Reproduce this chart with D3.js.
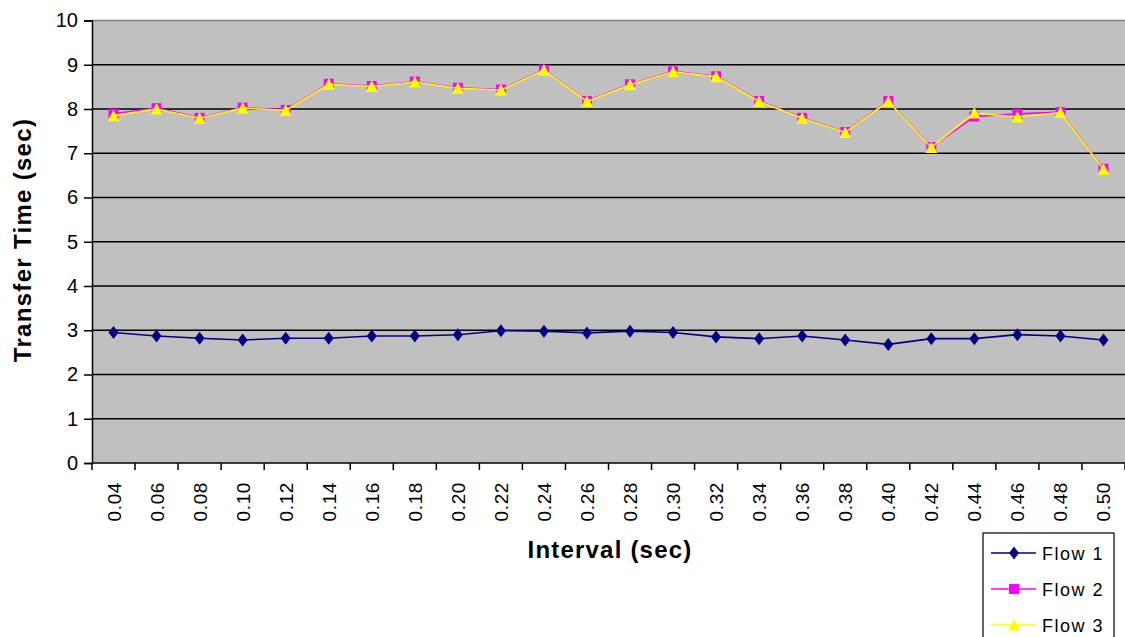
<!DOCTYPE html>
<html>
<head>
<meta charset="utf-8">
<script src="https://cdn.jsdelivr.net/npm/d3@7"></script>
<style>
  html, body { margin: 0; padding: 0; background: #fff; }
  svg { display: block; }
  text { font-family: "Liberation Sans", Arial, sans-serif; fill: #000; }
</style>
</head>
<body>
<svg id="chart" width="1125" height="637"></svg>
<script>
// Interval categories (sec)
const intervals = ["0.04","0.06","0.08","0.10","0.12","0.14","0.16","0.18","0.20","0.22","0.24","0.26",
                   "0.28","0.30","0.32","0.34","0.36","0.38","0.40","0.42","0.44","0.46","0.48","0.50"];

// Transfer time per flow (sec)
const flow1 = [2.95,2.87,2.82,2.78,2.82,2.82,2.87,2.87,2.90,2.99,2.98,2.94,
               2.98,2.95,2.85,2.81,2.87,2.78,2.68,2.81,2.81,2.90,2.87,2.78];
const flow2 = [7.89,8.02,7.80,8.03,7.98,8.57,8.52,8.62,8.48,8.44,8.89,8.18,
               8.56,8.85,8.74,8.18,7.80,7.48,8.18,7.14,7.83,7.89,7.93,6.65];
const flow3 = [7.85,8.00,7.79,8.02,7.97,8.56,8.51,8.61,8.47,8.43,8.88,8.17,
               8.55,8.84,8.73,8.17,7.79,7.47,8.17,7.13,7.91,7.82,7.92,6.64];

const yTicks = [0,1,2,3,4,5,6,7,8,9,10];

const seriesNames = ["Flow 1","Flow 2","Flow 3"];
const seriesColors = ["#000080","#FF00FF","#FFFF00"];
const seriesMarkers = ["diamond","square","triangle"];

const svg = d3.select("#chart");
const plotL = 92, plotR = 1125, plotT = 20.5, plotB = 463;

const x = d3.scaleBand().domain(intervals).range([plotL, plotR]).padding(0);
const y = d3.scaleLinear().domain([0, 10]).range([plotB, plotT]);

// plot background
svg.append("rect")
  .attr("x", plotL).attr("y", plotT)
  .attr("width", plotR - plotL).attr("height", plotB - plotT)
  .attr("fill", "#C0C0C0");
svg.append("line")
  .attr("x1", plotL).attr("x2", plotR).attr("y1", plotT).attr("y2", plotT)
  .attr("stroke", "#808080").attr("stroke-width", 1.5);

// horizontal gridlines
svg.append("g").selectAll("line")
  .data(yTicks.filter(d => d > 0 && d < 10))
  .join("line")
  .attr("x1", plotL).attr("x2", plotR)
  .attr("y1", d => y(d)).attr("y2", d => y(d))
  .attr("stroke", "#000").attr("stroke-width", 1.6);

// y axis
const yAxis = d3.axisLeft(y).tickValues(yTicks).tickSize(8).tickPadding(6).tickFormat(d3.format("d"));
const gy = svg.append("g").attr("transform", `translate(${plotL},0)`).call(yAxis);
gy.select(".domain").attr("stroke", "#000").attr("stroke-width", 1.5);
gy.selectAll(".tick line").attr("stroke", "#000").attr("stroke-width", 1.5);
gy.selectAll(".tick text")
  .attr("font-family", "'Liberation Sans', Arial, sans-serif")
  .attr("font-size", 20).attr("fill", "#000");

// x axis: ticks at category boundaries, labels rotated at band centers
const gx = svg.append("g");
gx.append("line")
  .attr("x1", plotL).attr("x2", plotR).attr("y1", plotB).attr("y2", plotB)
  .attr("stroke", "#000").attr("stroke-width", 1.5);
gx.selectAll("line.tk")
  .data(intervals.concat(["end"]))
  .join("line").attr("class", "tk")
  .attr("x1", (d, i) => plotL + i * x.bandwidth())
  .attr("x2", (d, i) => plotL + i * x.bandwidth())
  .attr("y1", plotB).attr("y2", plotB + 7)
  .attr("stroke", "#000").attr("stroke-width", 1.5);
gx.selectAll("text")
  .data(intervals)
  .join("text")
  .attr("transform", d => `translate(${x(d) + x.bandwidth() / 2 + 7},482) rotate(-90)`)
  .attr("text-anchor", "end")
  .attr("font-size", 19)
  .attr("letter-spacing", 0.6)
  .text(d => d);

// axis titles
svg.append("text")
  .attr("x", 610).attr("y", 558)
  .attr("text-anchor", "middle")
  .attr("font-size", 24).attr("font-weight", "bold").attr("letter-spacing", 1.2)
  .text("Interval (sec)");
svg.append("text")
  .attr("transform", "translate(31,240) rotate(-90)")
  .attr("text-anchor", "middle")
  .attr("font-size", 24).attr("font-weight", "bold").attr("letter-spacing", 1.3)
  .text("Transfer Time (sec)");

// marker shapes
function markerPath(kind) {
  if (kind === "diamond") return "M0,-6.5L5,0L0,6.5L-5,0Z";
  if (kind === "square") return "M-5,-5H5V5H-5Z";
  return "M0,-6L6,5.5H-6Z";
}

const line = d3.line()
  .x((d, i) => x(intervals[i]) + x.bandwidth() / 2)
  .y(d => y(d));

const allSeries = [flow1, flow2, flow3];
allSeries.forEach((vals, s) => {
  const g = svg.append("g");
  g.append("path")
    .attr("d", line(vals))
    .attr("fill", "none")
    .attr("stroke", seriesColors[s])
    .attr("stroke-width", 1.6);
  g.selectAll("path.mk")
    .data(vals)
    .join("path").attr("class", "mk")
    .attr("transform", (d, i) => `translate(${x(intervals[i]) + x.bandwidth() / 2},${y(d)})`)
    .attr("d", markerPath(seriesMarkers[s]))
    .attr("fill", seriesColors[s]);
});

// legend
const lg = svg.append("g");
lg.append("rect")
  .attr("x", 983).attr("y", 533).attr("width", 131).attr("height", 110)
  .attr("fill", "#fff").attr("stroke", "#000").attr("stroke-width", 1.2);
seriesNames.forEach((name, s) => {
  const yy = 553 + s * 36;
  lg.append("line")
    .attr("x1", 991).attr("x2", 1036).attr("y1", yy).attr("y2", yy)
    .attr("stroke", seriesColors[s]).attr("stroke-width", 1.6);
  lg.append("path")
    .attr("transform", `translate(1014,${yy})`)
    .attr("d", markerPath(seriesMarkers[s]))
    .attr("fill", seriesColors[s]);
  lg.append("text")
    .attr("x", 1042).attr("y", yy + 7)
    .attr("font-size", 18).attr("letter-spacing", 1.5)
    .text(name);
});
</script>
</body>
</html>
